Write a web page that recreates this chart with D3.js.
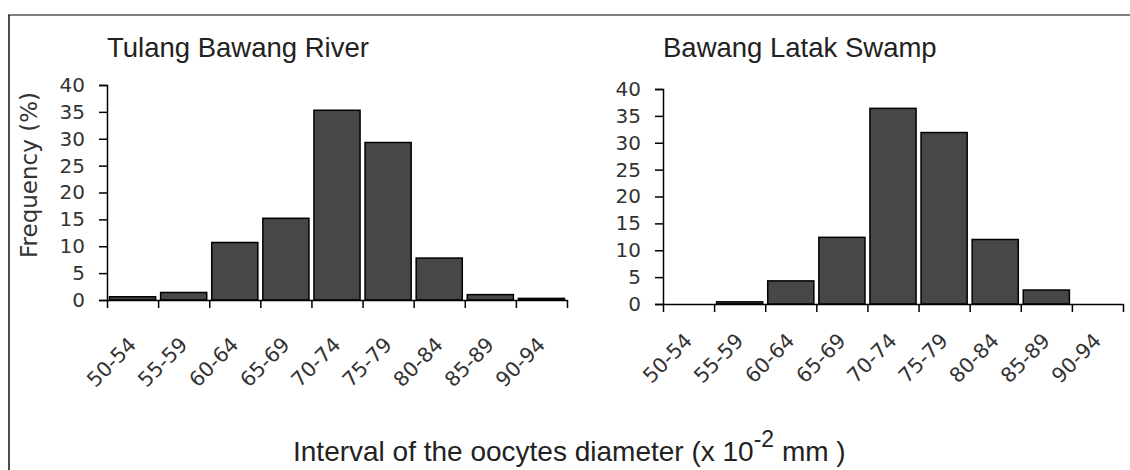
<!doctype html>
<html>
<head>
<meta charset="utf8">
<script src="https://d3js.org/d3.v7.min.js"></script>
<style>
    body { margin: 0; background: #fff; }
    .tick text { font-family: "DejaVu Sans", Verdana, sans-serif; fill: #333; }
    .title { font-family: "Liberation Sans", Arial, sans-serif; fill: #222; }
    .bar { fill: #474747; stroke: #000; stroke-width: 1.5; }
</style>
</head>
<body>
<svg width="1130" height="470"></svg>
<script>
    var categories = ["50-54", "55-59", "60-64", "65-69", "70-74", "75-79", "80-84", "85-89", "90-94"];
    var riverValues = [0.6, 1.4, 10.7, 15.2, 35.3, 29.3, 7.8, 1.0, 0.3];
    var swampValues = [0, 0.4, 4.3, 12.4, 36.4, 31.9, 12.0, 2.6, 0];
    var yTicks = [0, 5, 10, 15, 20, 25, 30, 35, 40];

    var svg = d3.select("svg");

    // frame
    svg.append("line").attr("x1", 8).attr("x2", 1130).attr("y1", 15).attr("y2", 15)
       .attr("stroke", "#555").attr("stroke-width", 1.5);
    svg.append("line").attr("x1", 9).attr("x2", 9).attr("y1", 15).attr("y2", 470)
       .attr("stroke", "#111").attr("stroke-width", 1.5);

    function panel(values, title, left, right, base, labelY) {
        var x = d3.scaleBand().domain(categories).range([left, right]).padding(0);
        var edge = d3.scaleLinear().domain([0, categories.length]).range([left, right]);
        var y = d3.scaleLinear().domain([0, 40]).range([base, base - 215]);
        var data = values.map(function(v, i) { return { cat: categories[i], v: v }; });

        var g = svg.append("g");

        g.append("text")
         .attr("class", "title")
         .attr("x", left)
         .attr("y", 57)
         .attr("font-size", "27.5px")
         .text(title);

        g.selectAll(".bar")
         .data(data.filter(function(d) { return d.v > 0; }))
         .enter().append("rect")
         .attr("class", "bar")
         .attr("x", function(d) { return x(d.cat) + 2.5; })
         .attr("y", function(d) { return y(d.v); })
         .attr("width", x.bandwidth() - 5)
         .attr("height", function(d) { return base - y(d.v); });

        var ya = g.append("g")
         .attr("transform", "translate(" + left + ",0)")
         .call(d3.axisLeft(y).tickValues(yTicks).tickSize(8).tickPadding(14));
        ya.selectAll("text").attr("font-size", "20px");
        ya.selectAll("line, path").attr("stroke", "#000").attr("stroke-width", 1.5);

        var xa = g.append("g")
         .attr("transform", "translate(0," + base + ")")
         .call(d3.axisBottom(edge).tickValues(d3.range(categories.length + 1))
               .tickFormat("").tickSizeInner(8).tickSizeOuter(0));
        xa.selectAll("line, path").attr("stroke", "#000").attr("stroke-width", 1.5);

        g.selectAll(".xlab")
         .data(categories)
         .enter().append("text")
         .attr("class", "xlab")
         .attr("font-family", "DejaVu Sans, Verdana, sans-serif")
         .attr("font-size", "20.5px")
         .attr("fill", "#333")
         .attr("text-anchor", "end")
         .attr("transform", function(d) {
             return "translate(" + (x(d) + x.bandwidth() / 2 + 5) + "," + labelY + ") rotate(-45)";
         })
         .text(function(d) { return d; });
    }

    panel(riverValues, "Tulang Bawang River", 107, 567, 300, 346);
    panel(swampValues, "Bawang Latak Swamp", 663, 1123, 304, 342);

    // y axis title
    svg.append("text")
       .attr("transform", "translate(37,175) rotate(-90)")
       .attr("text-anchor", "middle")
       .attr("font-family", "DejaVu Sans, Verdana, sans-serif")
       .attr("font-size", "23px")
       .attr("fill", "#333")
       .text("Frequency (%)");

    // x axis title
    var xt = svg.append("text")
       .attr("x", 293)
       .attr("y", 461)
       .attr("class", "title")
       .attr("font-size", "28px")
       .attr("fill", "#333");
    xt.append("tspan").text("Interval of the oocytes diameter (x 10");
    xt.append("tspan").attr("dy", -14).attr("font-size", "23px").text("-2");
    xt.append("tspan").attr("dy", 14).text("  mm )");
</script>
</body>
</html>
